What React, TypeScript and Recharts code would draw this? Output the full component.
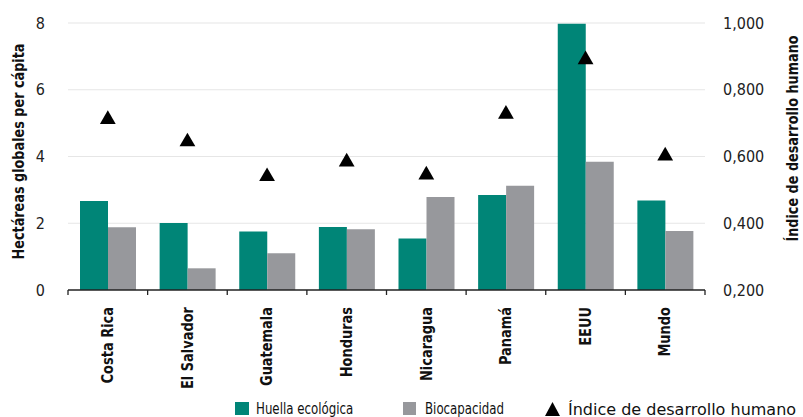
import React from 'react';
import { ComposedChart, Bar, Scatter, XAxis, YAxis, ZAxis, CartesianGrid, Legend } from 'recharts';

const categories = ['Costa Rica', 'El Salvador', 'Guatemala', 'Honduras', 'Nicaragua', 'Panamá', 'EEUU', 'Mundo'];
const huellaEcologica = [2.67, 2.01, 1.75, 1.89, 1.54, 2.85, 7.98, 2.68];
const biocapacidad = [1.88, 0.65, 1.1, 1.82, 2.79, 3.12, 3.84, 1.77];
const indiceDesarrollo = [0.711, 0.644, 0.54, 0.584, 0.545, 0.727, 0.89, 0.602];
const leftTicks = [0, 2, 4, 6, 8];
const rightTicks = [0.2, 0.4, 0.6, 0.8, 1.0];

const TEAL = '#008577';
const GRAY = '#97989c';
const FONT = "'DejaVu Sans Condensed', 'DejaVu Sans', sans-serif";
const COND: React.CSSProperties = { fontStretch: 'condensed' };

const data = categories.map((name, i) => ({
  name,
  huella: huellaEcologica[i],
  bio: biocapacidad[i],
  idh: indiceDesarrollo[i],
}));

const XTick = (props: any) => {
  const { x, y, payload, index, visibleTicksCount } = props;
  const half = payload && typeof payload.offset === 'number' && payload.offset > 0 ? payload.offset : 39.8;
  const yy = y + 17;
  const isLast = visibleTicksCount ? index === visibleTicksCount - 1 : index === categories.length - 1;
  return (
    <g>
      <line x1={x - half} x2={x - half} y1={y} y2={y + 5} stroke="#222" strokeWidth={1.3} />
      {isLast && <line x1={x + half} x2={x + half} y1={y} y2={y + 5} stroke="#222" strokeWidth={1.3} />}
      <text
        transform={`translate(${x} ${yy}) rotate(-90) scale(0.9 1)`}
        x={0}
        y={0}
        textAnchor="end"
        dominantBaseline="central"
        fontFamily={FONT}
        fontWeight="bold"
        fontSize={16}
        fill="#111"
        style={COND}
      >
        {payload.value}
      </text>
    </g>
  );
};

const LeftLabel = (props: any) => {
  const vb = props.viewBox || { x: 0, y: 23, width: 68, height: 267 };
  const cx = vb.x + 18;
  const cy = vb.y + vb.height / 2 - 5;
  return (
    <text
      transform={`translate(${cx} ${cy}) rotate(-90) scale(0.95 1)`}
      x={0}
      y={0}
      textAnchor="middle"
      dominantBaseline="central"
      fontFamily={FONT}
      fontWeight="bold"
      fontSize={15}
      fill="#111"
      style={COND}
    >
      Hectáreas globales per cápita
    </text>
  );
};

const RightLabel = (props: any) => {
  const vb = props.viewBox || { x: 705, y: 23, width: 98, height: 267 };
  const cx = vb.x + 87;
  const cy = vb.y + vb.height / 2 - 18;
  return (
    <text
      transform={`translate(${cx} ${cy}) rotate(-90) scale(0.95 1)`}
      x={0}
      y={0}
      textAnchor="middle"
      dominantBaseline="central"
      fontFamily={FONT}
      fontWeight="bold"
      fontSize={15}
      fill="#111"
      style={COND}
    >
      Índice de desarrollo humano
    </text>
  );
};

const txt: React.CSSProperties = {
  display: 'inline-block',
  lineHeight: '13px',
  transform: 'scaleX(0.82)',
  transformOrigin: 'left center',
};

const txtWide: React.CSSProperties = {
  display: 'inline-block',
  lineHeight: '13px',
  fontFamily: "'DejaVu Sans', sans-serif",
  fontStretch: 'normal',
};

const LegendContent = () => (
  <div style={{ position: 'relative', width: 803, height: 24, fontFamily: FONT, fontSize: 16, color: '#111', fontStretch: 'condensed' }}>
    <div style={{ position: 'absolute', left: 235, top: 9, display: 'flex', alignItems: 'center', whiteSpace: 'nowrap' }}>
      <span style={{ display: 'inline-block', width: 14, height: 13, background: TEAL, marginRight: 7 }} />
      <span style={txt}>Huella ecológica</span>
    </div>
    <div style={{ position: 'absolute', left: 403, top: 9, display: 'flex', alignItems: 'center', whiteSpace: 'nowrap' }}>
      <span style={{ display: 'inline-block', width: 13, height: 13, background: GRAY, marginRight: 9 }} />
      <span style={txt}>Biocapacidad</span>
    </div>
    <div style={{ position: 'absolute', left: 545, top: 9, display: 'flex', alignItems: 'center', whiteSpace: 'nowrap' }}>
      <svg width={15} height={14} style={{ marginRight: 8 }}>
        <polygon points="7.5,0 15,14 0,14" fill="#000" />
      </svg>
      <span style={txtWide}>Índice de desarrollo humano</span>
    </div>
  </div>
);

const fmtRight = (v: number) => v.toFixed(3).replace('.', ',');

export default function App() {
  return (
    <div style={{ position: 'absolute', left: 0, top: 0, width: 803, height: 417, background: '#fff' }}>
      <ComposedChart
        width={803}
        height={417}
        data={data}
        margin={{ top: 23, right: 0, bottom: 0, left: 0 }}
        barGap={0}
      >
        <CartesianGrid vertical={false} stroke="#e6e6e6" strokeWidth={1.2} xAxisId="cat" yAxisId="left" horizontalValues={[2, 4, 6, 8]} />
        <XAxis
          xAxisId="cat"
          dataKey="name"
          type="category"
          height={103}
          axisLine={{ stroke: '#222', strokeWidth: 1.3 }}
          tickLine={false}
          tickSize={0}
          tickMargin={0}
          interval={0}
          tick={<XTick />}
        />
        <YAxis
          yAxisId="left"
          orientation="left"
          width={68}
          domain={[0, 8]}
          ticks={leftTicks}
          axisLine={false}
          tickLine={false}
          tickMargin={17}
          tick={{ fontFamily: FONT, fontSize: 16, fill: '#222', style: COND }}
          label={<LeftLabel />}
        />
        <YAxis
          yAxisId="right"
          orientation="right"
          width={98}
          domain={[0.2, 1.0]}
          ticks={rightTicks}
          axisLine={false}
          tickLine={false}
          tickMargin={12}
          tickFormatter={fmtRight}
          tick={{ fontFamily: FONT, fontSize: 16, fill: '#222', style: COND }}
          label={<RightLabel />}
        />
        <ZAxis range={[108, 108]} />
        <Legend verticalAlign="bottom" align="left" content={<LegendContent />} wrapperStyle={{ left: 0, width: 803, height: 24 }} />
        <Bar xAxisId="cat" yAxisId="left" dataKey="huella" fill={TEAL} barSize={28} isAnimationActive={false} />
        <Bar xAxisId="cat" yAxisId="left" dataKey="bio" fill={GRAY} barSize={28} isAnimationActive={false} />
        <Scatter xAxisId="cat" yAxisId="right" dataKey="idh" fill="#000" shape="triangle" isAnimationActive={false} />
      </ComposedChart>
    </div>
  );
}
